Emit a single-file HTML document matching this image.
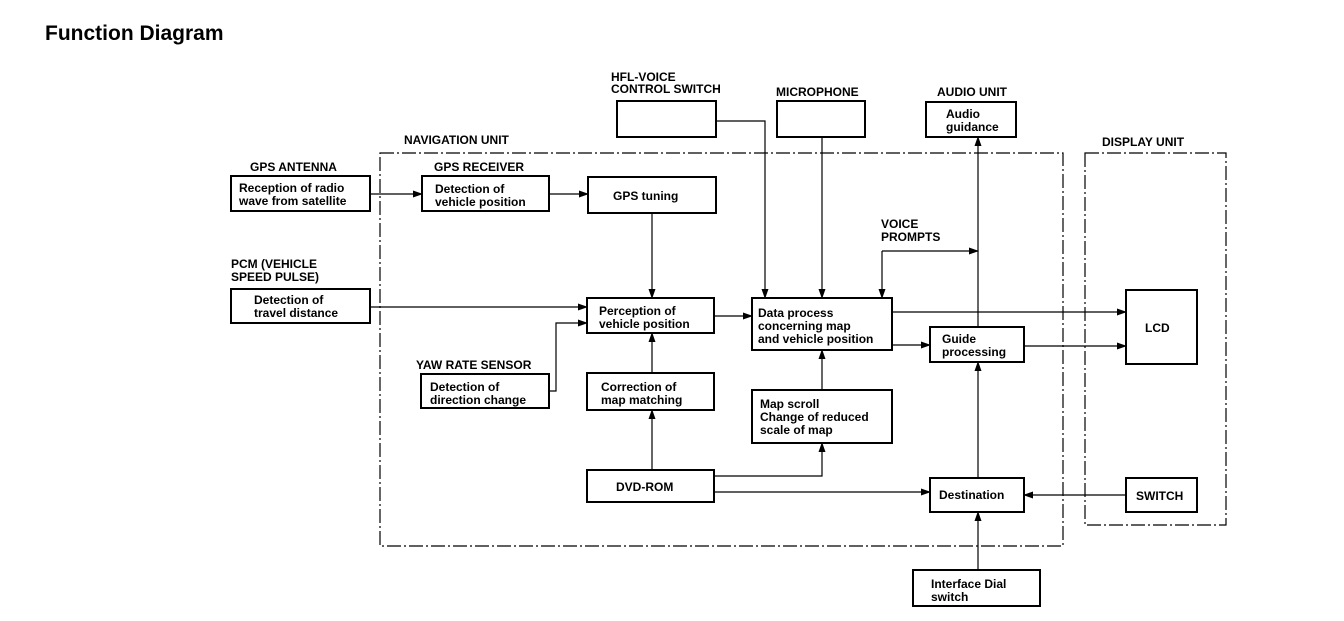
<!DOCTYPE html>
<html><head><meta charset="utf-8"><style>
body{margin:0;background:#fff;width:1344px;height:616px;overflow:hidden}
svg text{font-family:"Liberation Sans",sans-serif;font-weight:bold;font-size:12px;fill:#000}
</style></head><body>
<svg width="1344" height="616" viewBox="0 0 1344 616">
<defs><marker id="a" markerWidth="10" markerHeight="8" refX="9" refY="4" orient="auto" markerUnits="userSpaceOnUse"><path d="M0,0.5 L10,4 L0,7.5 z" fill="#000"/></marker></defs>
<text x="45" y="40" style="font-size:21px">Function Diagram</text>
<g fill="none" stroke="#000" stroke-width="1.2" stroke-dasharray="14,3,2,3">
<rect x="380" y="153" width="683" height="393"/>
<rect x="1085" y="153" width="141" height="372"/>
</g>
<g fill="#fff" stroke="#000" stroke-width="2">
<rect x="231" y="176" width="139" height="35"/>
<rect x="422" y="176" width="127" height="35"/>
<rect x="588" y="177" width="128" height="36"/>
<rect x="231" y="289" width="139" height="34"/>
<rect x="587" y="298" width="127" height="35"/>
<rect x="421" y="374" width="128" height="34"/>
<rect x="587" y="373" width="127" height="37"/>
<rect x="587" y="470" width="127" height="32"/>
<rect x="752" y="298" width="140" height="52"/>
<rect x="752" y="390" width="140" height="53"/>
<rect x="930" y="327" width="94" height="35"/>
<rect x="930" y="478" width="94" height="34"/>
<rect x="913" y="570" width="127" height="36"/>
<rect x="617" y="101" width="99" height="36"/>
<rect x="777" y="101" width="88" height="36"/>
<rect x="926" y="102" width="90" height="35"/>
<rect x="1126" y="290" width="71" height="74"/>
<rect x="1126" y="478" width="71" height="34"/>
</g>
<g fill="none" stroke="#000" stroke-width="1.2" marker-end="url(#a)">
<path d="M370,194H422"/>
<path d="M549,194H588"/>
<path d="M652,213V298"/>
<path d="M370,307H587"/>
<path d="M549,391H556V323H587"/>
<path d="M652,373V333"/>
<path d="M652,470V410"/>
<path d="M714,476H822V443"/>
<path d="M714,492H930"/>
<path d="M714,316H752"/>
<path d="M716,121H765V298"/>
<path d="M822,137V298"/>
<path d="M882,251V298"/>
<path d="M882,251H978"/>
<path d="M978,327V137"/>
<path d="M892,312H1126"/>
<path d="M892,345H930"/>
<path d="M1024,346H1126"/>
<path d="M822,390V350"/>
<path d="M978,478V362"/>
<path d="M1126,495H1024"/>
<path d="M978,570V512"/>
</g>
<text x="404" y="144">NAVIGATION UNIT</text>
<text x="250" y="171">GPS ANTENNA</text>
<text x="434" y="171">GPS RECEIVER</text>
<text x="231" y="268">PCM (VEHICLE</text>
<text x="231" y="281">SPEED PULSE)</text>
<text x="416" y="369">YAW RATE SENSOR</text>
<text x="611" y="81">HFL-VOICE</text>
<text x="611" y="93">CONTROL SWITCH</text>
<text x="776" y="96">MICROPHONE</text>
<text x="937" y="96">AUDIO UNIT</text>
<text x="1102" y="146">DISPLAY UNIT</text>
<text x="881" y="228">VOICE</text>
<text x="881" y="241">PROMPTS</text>
<text x="239" y="192">Reception of radio</text>
<text x="239" y="205">wave from satellite</text>
<text x="435" y="193">Detection of</text>
<text x="435" y="206">vehicle position</text>
<text x="613" y="200">GPS tuning</text>
<text x="254" y="304">Detection of</text>
<text x="254" y="317">travel distance</text>
<text x="599" y="315">Perception of</text>
<text x="599" y="328">vehicle position</text>
<text x="430" y="391">Detection of</text>
<text x="430" y="404">direction change</text>
<text x="601" y="391">Correction of</text>
<text x="601" y="404">map matching</text>
<text x="616" y="491">DVD-ROM</text>
<text x="758" y="317">Data process</text>
<text x="758" y="330">concerning map</text>
<text x="758" y="343">and vehicle position</text>
<text x="760" y="408">Map scroll</text>
<text x="760" y="421">Change of reduced</text>
<text x="760" y="434">scale of map</text>
<text x="942" y="343">Guide</text>
<text x="942" y="356">processing</text>
<text x="939" y="499">Destination</text>
<text x="931" y="588">Interface Dial</text>
<text x="931" y="601">switch</text>
<text x="946" y="118">Audio</text>
<text x="946" y="131">guidance</text>
<text x="1145" y="332">LCD</text>
<text x="1136" y="500">SWITCH</text>
</svg>
</body></html>
